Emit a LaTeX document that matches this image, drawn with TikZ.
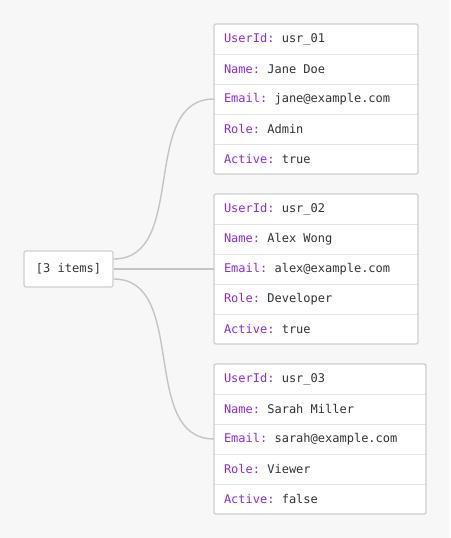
\documentclass[tikz,border=0pt]{standalone}
\usepackage{fontspec}
\setmonofont{DejaVu Sans Mono}
\usetikzlibrary{
  positioning,
  calc
}
\usepackage{xcolor}
\definecolor{pageGray}{HTML}{F7F7F7}
\definecolor{frameGray}{HTML}{CFCFCF}
\definecolor{sepGray}{HTML}{E4E4E4}
\definecolor{linkGray}{HTML}{C4C4C4}
\definecolor{keyPurple}{HTML}{8A2BE2}
\definecolor{valGray}{HTML}{333333}
\newcommand{\kv}[2]{\textcolor{keyPurple}{#1:} #2}
\newcommand{\usTop}[4]{\node[field, anchor=north west] (#1) at (#2) {\kv{#3}{#4}};}
\newcommand{\usRow}[4]{\node[field, below=0pt of #1] (#2) {\kv{#3}{#4}};}
\tikzset{
  field/.style={
    fill=white,
    text=valGray,
    font=\ttfamily\fontsize{12}{14}\selectfont\frenchspacing,
    inner xsep=10pt,
    inner ysep=0pt,
    outer sep=0pt,
    text width=184pt,
    align=flush left,
    minimum height=30pt
  },
  card/.style={draw=frameGray, line width=1.3pt, rounded corners=2pt},
  sep/.style={draw=sepGray, line width=0.9pt},
  link/.style={draw=linkGray, line width=1.4pt}
}

\begin{document}
\begin{tikzpicture}[
    x=1pt,
    y=1pt
  ]
  \useasboundingbox[fill=pageGray] (0,0) rectangle (450,538);

  \node[fill=white, draw=frameGray, line width=1.2pt, rounded corners=2pt,
        minimum width=89pt, minimum height=36pt, text=valGray,
        font=\ttfamily\fontsize{12}{14}\selectfont] (items) at (68.5,269) {[3 items]};

  % first user
  \usTop{u1id}{214,514}{UserId}{usr\_01}
  \usRow{u1id}{u1name}{Name}{Jane Doe}
  \usRow{u1name}{u1email}{Email}{jane@example.com}
  \usRow{u1email}{u1role}{Role}{Admin}
  \usRow{u1role}{u1act}{Active}{true}

  % second user
  \usTop{u2id}{214,344}{UserId}{usr\_02}
  \usRow{u2id}{u2name}{Name}{Alex Wong}
  \usRow{u2name}{u2email}{Email}{alex@example.com}
  \usRow{u2email}{u2role}{Role}{Developer}
  \usRow{u2role}{u2act}{Active}{true}

  % third user, a bit wider
  \begin{scope}[field/.append style={text width=192pt}]
  \usTop{u3id}{214,174}{UserId}{usr\_03}
  \usRow{u3id}{u3name}{Name}{Sarah Miller}
  \usRow{u3name}{u3email}{Email}{sarah@example.com}
  \usRow{u3email}{u3role}{Role}{Viewer}
  \usRow{u3role}{u3act}{Active}{false}
  \end{scope}

  \foreach \u in {u1,u2,u3} {
    \foreach \r in {name,email,role,act}
      \draw[sep] (\u\r.north west) -- (\u\r.north east);
    \draw[card] (\u id.north west) rectangle (\u act.south east);
  }

  \coordinate (itemsTop) at ([yshift=10pt]items.east);
  \coordinate (itemsBot) at ([yshift=-10pt]items.east);

  \draw[link] (itemsTop) .. controls +(75,0) and +(-75,0) .. (u1email.west);
  \draw[link] (items.east) -- (u2email.west);
  \draw[link] (itemsBot) .. controls +(75,0) and +(-75,0) .. (u3email.west);
\end{tikzpicture}
\end{document}
